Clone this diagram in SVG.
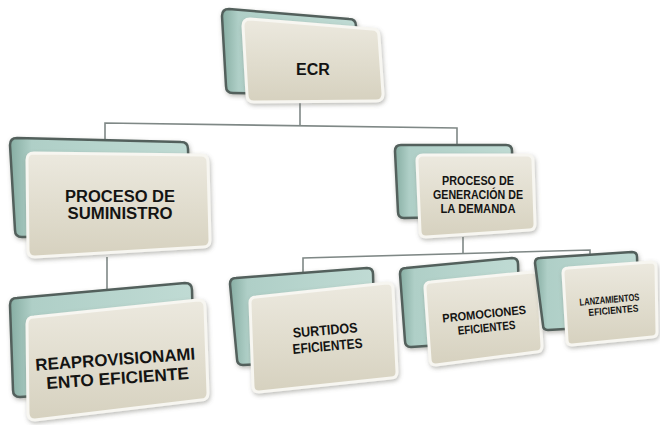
<svg xmlns="http://www.w3.org/2000/svg" width="660" height="425" viewBox="0 0 660 425">
<defs>
<linearGradient id="gFront" x1="0" y1="0" x2="0" y2="1">
<stop offset="0" stop-color="#ece9df"/>
<stop offset="0.55" stop-color="#e0dccd"/>
<stop offset="1" stop-color="#d6d1bf"/>
</linearGradient>
<linearGradient id="gBack" x1="0" y1="0" x2="1" y2="0">
<stop offset="0" stop-color="#86ada2"/>
<stop offset="0.12" stop-color="#afcfc7"/>
<stop offset="1" stop-color="#c0dbd4"/>
</linearGradient>
<filter id="sh" x="-20%" y="-20%" width="140%" height="140%">
<feDropShadow dx="1" dy="2" stdDeviation="2" flood-color="#6a6a60" flood-opacity="0.45"/>
</filter>
</defs>
<style>
.back{fill:url(#gBack);stroke:#52605c;stroke-width:2.5;stroke-linejoin:round;filter:url(#sh)}
.front{fill:url(#gFront);stroke:#f7f6f1;stroke-width:3;stroke-linejoin:round;filter:url(#sh)}
.conn{fill:none;stroke:#7f8886;stroke-width:1.6}
.t{font-family:"Liberation Sans",Arial,sans-serif;font-weight:bold;fill:#141413;text-anchor:middle}
</style>
<rect width="660" height="425" fill="#ffffff"/>
<g id="connectors">
<path class="conn" d="M300,103 L300,125"/>
<path class="conn" d="M105,140 L105,123 L457,128 L457,145"/>
<path class="conn" d="M107,257 L107,290"/>
<path class="conn" d="M463,237 L463,254"/>
<path class="conn" d="M303,272 L303,258 L590,250 L590,258"/>
</g>
<g id="ecr">
<path class="back" d="M229,9 L349,19 Q356,19 356,26 L358,88 Q358,95 351,95 L233,93 Q226,93 226,86 L222,16 Q222,9 229,9Z"/>
<path class="front" d="M250,19 L372,29 Q379,29 379,36 L383,94 Q383,101 376,101 L254,102 Q247,102 247,95 L243,26 Q243,19 250,19Z"/>
<text class="t" x="313" y="75" font-size="16">ECR</text>
</g>
<g id="suministro">
<path class="back" d="M17,138 L181,142 Q188,142 188,149 L190,227 Q190,234 183,234 L22,237 Q15,237 15,230 L10,145 Q10,138 17,138Z"/>
<path class="front" d="M34,153 L201,155 Q208,155 208,162 L210,240 Q210,247 203,247 L35,257 Q28,257 28,250 L27,160 Q27,153 34,153Z"/>
<text class="t" x="120" y="202" font-size="16" textLength="110" lengthAdjust="spacingAndGlyphs">PROCESO DE</text>
<text class="t" x="120" y="219" font-size="16" textLength="105" lengthAdjust="spacingAndGlyphs">SUMINISTRO</text>
</g>
<g id="reaprovisionamiento">
<path class="back" d="M17,298 L185,283 Q192,283 192,290 L194,378 Q194,385 187,385 L20,397 Q13,397 13,390 L10,305 Q10,298 17,298Z"/>
<path class="front" d="M34,317 L198,300 Q205,300 205,307 L208,393 Q208,400 201,400 L35,420 Q28,420 28,413 L27,324 Q27,317 34,317Z"/>
<g transform="rotate(-4 117 370)">
<text class="t" x="116" y="365" font-size="17" textLength="160" lengthAdjust="spacingAndGlyphs">REAPROVISIONAMI</text>
<text class="t" x="117" y="384" font-size="17" textLength="143" lengthAdjust="spacingAndGlyphs">ENTO EFICIENTE</text>
</g>
</g>
<g id="generacion">
<path class="back" d="M401,145 L506,145 Q512,145 512,151 L513,210 Q513,216 507,216 L404,218 Q398,218 398,212 L395,151 Q395,145 401,145Z"/>
<path class="front" d="M423,155 L527,155 Q533,155 533,161 L535,224 Q535,230 529,230 L426,237 Q420,237 420,231 L417,161 Q417,155 423,155Z"/>
<text class="t" x="478" y="185" font-size="12" textLength="72" lengthAdjust="spacingAndGlyphs">PROCESO DE</text>
<text class="t" x="478" y="199" font-size="12" textLength="90" lengthAdjust="spacingAndGlyphs">GENERACIÓN DE</text>
<text class="t" x="478" y="213" font-size="12" textLength="75" lengthAdjust="spacingAndGlyphs">LA DEMANDA</text>
</g>
<g id="surtidos">
<path class="back" d="M236,278 L367,268 Q373,268 373,274 L375,352 Q375,358 369,358 L243,365 Q237,365 237,359 L230,284 Q230,278 236,278Z"/>
<path class="front" d="M256,297 L387,283 Q393,283 393,289 L397,372 Q397,378 391,378 L259,392 Q253,392 253,386 L250,303 Q250,297 256,297Z"/>
<g transform="rotate(-5 326 340)">
<text class="t" x="326" y="335" font-size="14" textLength="65" lengthAdjust="spacingAndGlyphs">SURTIDOS</text>
<text class="t" x="327" y="351" font-size="14" textLength="70" lengthAdjust="spacingAndGlyphs">EFICIENTES</text>
</g>
</g>
<g id="promociones">
<path class="back" d="M406,268 L512,258 Q518,258 518,264 L520,334 Q520,340 514,340 L411,347 Q405,347 405,341 L400,274 Q400,268 406,268Z"/>
<path class="front" d="M431,282 L532,272 Q538,272 538,278 L542,346 Q542,352 536,352 L436,365 Q430,365 430,359 L425,288 Q425,282 431,282Z"/>
<g transform="rotate(-6 485 322)">
<text class="t" x="485" y="318" font-size="12" textLength="84" lengthAdjust="spacingAndGlyphs">PROMOCIONES</text>
<text class="t" x="486" y="332" font-size="12" textLength="58" lengthAdjust="spacingAndGlyphs">EFICIENTES</text>
</g>
</g>
<g id="lanzamientos">
<path class="back" d="M540,258 L632,252 Q637,252 637,257 L639,320 Q639,325 634,325 L548,330 Q543,330 543,325 L535,263 Q535,258 540,258Z"/>
<path class="front" d="M568,268 L651,262 Q656,262 656,267 L657,332 Q657,337 652,337 L572,345 Q567,345 567,340 L563,273 Q563,268 568,268Z"/>
<g transform="rotate(-5 610 306)">
<text class="t" x="610" y="303" font-size="10" textLength="60" lengthAdjust="spacingAndGlyphs">LANZAMIENTOS</text>
<text class="t" x="613" y="314" font-size="10" textLength="50" lengthAdjust="spacingAndGlyphs">EFICIENTES</text>
</g>
</g>
</svg>
